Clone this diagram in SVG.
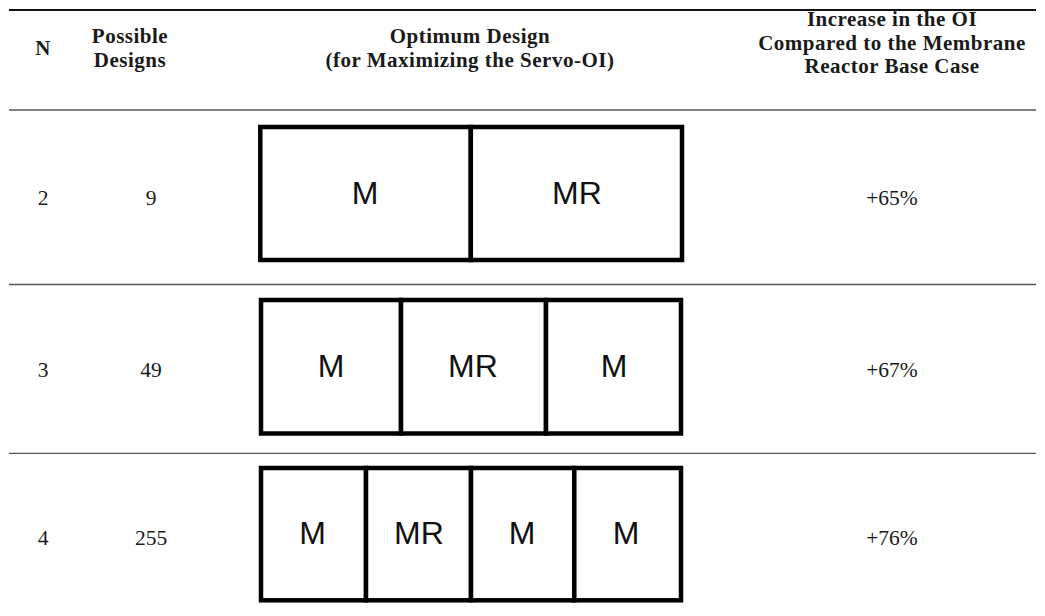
<svg xmlns="http://www.w3.org/2000/svg" width="1045" height="616" viewBox="0 0 1045 616">
  <style>
    .hd { font-family: "Liberation Serif", "Times New Roman", serif; font-weight: bold; font-size: 21px; letter-spacing: 0.5px; fill: #1a1a1a; text-anchor: middle; }
    .bd { font-family: "Liberation Serif", "Times New Roman", serif; font-size: 21.5px; fill: #1a1a1a; text-anchor: middle; }
    .cell { fill: #ffffff; stroke: #000000; stroke-width: 4.5; }
    .lbl { font-family: "Liberation Sans", Arial, sans-serif; font-size: 32px; fill: #111111; text-anchor: middle; }
    .rule { stroke: #555555; stroke-width: 1.3; }
    .rule-top { stroke: #111111; stroke-width: 2; }
  </style>
  <rect width="1045" height="616" fill="#ffffff"/>

  <!-- table rules -->
  <g id="rules">
    <line class="rule-top" x1="9" y1="10" x2="1036" y2="10"/>
    <line class="rule" x1="9" y1="110" x2="1036" y2="110"/>
    <line class="rule" x1="9" y1="284.5" x2="1036" y2="284.5"/>
    <line class="rule" x1="9" y1="453.3" x2="1036" y2="453.3"/>
  </g>

  <!-- header row -->
  <g id="header">
    <text class="hd" x="43" y="55">N</text>
    <text class="hd" x="130" y="43">Possible</text>
    <text class="hd" x="130" y="66.5">Designs</text>
    <text class="hd" x="470" y="43">Optimum Design</text>
    <text class="hd" x="470" y="66.5">(for Maximizing the Servo-OI)</text>
    <text class="hd" x="892" y="26">Increase in the OI</text>
    <text class="hd" x="892" y="49.5">Compared to the Membrane</text>
    <text class="hd" x="892" y="73">Reactor Base Case</text>
  </g>

  <!-- row N = 2 -->
  <g id="row2">
    <text class="bd" x="43" y="205">2</text>
    <text class="bd" x="151" y="205">9</text>
    <text class="bd" x="892" y="205">+65%</text>
  </g>
  <g id="design2">
    <rect class="cell" x="260.3" y="127" width="210.5" height="133"/>
    <rect class="cell" x="470.8" y="127" width="211.2" height="133"/>
    <text class="lbl" x="365" y="204">M</text>
    <text class="lbl" x="577" y="204">MR</text>
  </g>

  <!-- row N = 3 -->
  <g id="row3">
    <text class="bd" x="43" y="377">3</text>
    <text class="bd" x="151" y="377">49</text>
    <text class="bd" x="892" y="377">+67%</text>
  </g>
  <g id="design3">
    <rect class="cell" x="261" y="300" width="140" height="133.5"/>
    <rect class="cell" x="401" y="300" width="145" height="133.5"/>
    <rect class="cell" x="546" y="300" width="135" height="133.5"/>
    <text class="lbl" x="331" y="377">M</text>
    <text class="lbl" x="473" y="377">MR</text>
    <text class="lbl" x="614" y="377">M</text>
  </g>

  <!-- row N = 4 -->
  <g id="row4">
    <text class="bd" x="43" y="545">4</text>
    <text class="bd" x="151" y="545">255</text>
    <text class="bd" x="892" y="545">+76%</text>
  </g>
  <g id="design4">
    <rect class="cell" x="261" y="468" width="105" height="132.3"/>
    <rect class="cell" x="366" y="468" width="105" height="132.3"/>
    <rect class="cell" x="471" y="468" width="103.3" height="132.3"/>
    <rect class="cell" x="574.3" y="468" width="106.7" height="132.3"/>
    <text class="lbl" x="312.5" y="544">M</text>
    <text class="lbl" x="419" y="544">MR</text>
    <text class="lbl" x="522" y="544">M</text>
    <text class="lbl" x="626" y="544">M</text>
  </g>
</svg>
